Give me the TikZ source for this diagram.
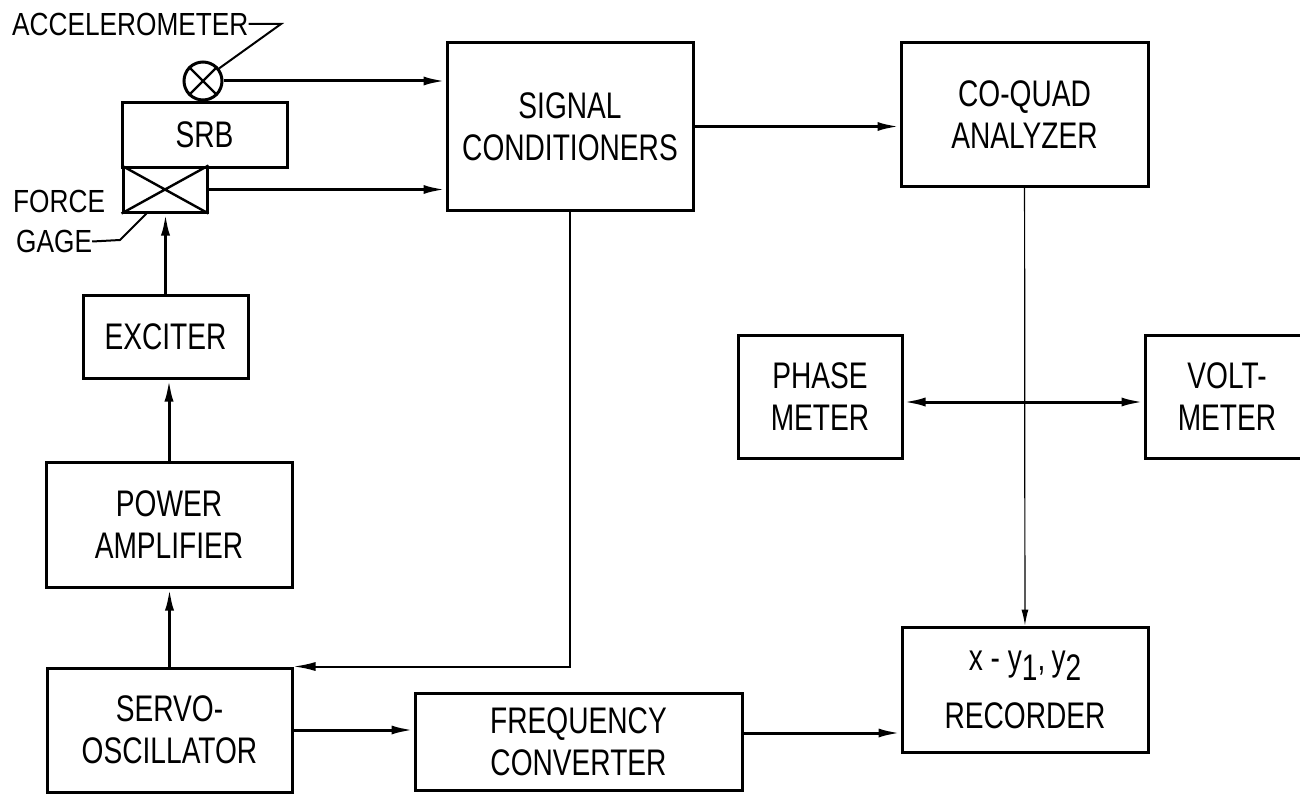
\documentclass[tikz,border=0pt]{standalone}
\usepackage{fontspec}
\setmainfont{Liberation Sans}[FakeStretch=0.76]
\newfontfamily\lblfont{Liberation Sans}[FakeStretch=0.82]
\usetikzlibrary{arrows.meta,positioning}

\begin{document}
\begin{tikzpicture}[x=1pt,y=-1pt,>={Latex[length=22pt,width=9pt]},
  blk/.style={draw,line width=3pt,inner sep=0pt,align=center,font=\fontsize{37}{42}\selectfont},
  lbl/.style={inner sep=0pt,font=\lblfont\fontsize{32}{36}\selectfont},
  wire/.style={line width=3pt},
  lead/.style={line width=2pt},
  feed/.style={line width=2pt},
  probe/.style={line width=1.2pt,-{Latex[length=16pt,width=7pt]}}]
  \useasboundingbox (0,0) rectangle (1300,797);
  % test article and transducers
  \node[blk,minimum width=165pt,minimum height=64pt] (srb) at (204.5,135) {SRB};
  \node[blk,minimum width=84pt,minimum height=45pt] (fg) at (165,189.5) {};
  \draw[line width=2.4pt] (fg.north west) -- (fg.south east) (fg.south west) -- (fg.north east);
  \node[draw,circle,line width=3pt,inner sep=0pt,minimum size=38pt] (acc) at (203,81) {};
  \draw[line width=2.4pt] (acc.45) -- (acc.225) (acc.135) -- (acc.315);
  \node[lbl,anchor=west] (acclbl) at (12,24) {ACCELEROMETER};
  \coordinate (acck) at (281,24);
  \draw[lead] (acclbl.east) -- (acck) -- (acc.38);
  \node[lbl,anchor=west] (forcelbl) at (13,201.5) {FORCE};
  \node[lbl,anchor=west] (gagelbl) at (16,241.5) {GAGE};
  \coordinate (gagek) at (120,240);
  \draw[lead] (gagelbl.east) -- (gagek) -- ([xshift=25pt]fg.south west);
  % drive chain
  \node[blk,minimum width=165pt,minimum height=83pt] (exc) at (165.5,336.5) {EXCITER};
  \node[blk,minimum width=246pt,minimum height=125pt] (pa) at (169,524.5) {POWER\\AMPLIFIER};
  \node[blk,minimum width=245pt,minimum height=124pt] (servo) at (169.5,730) {SERVO-\\OSCILLATOR};
  \node[blk,minimum width=327pt,minimum height=97pt] (freq) at (578.5,741.5) {FREQUENCY\\CONVERTER};
  % measuring chain
  \node[blk,minimum width=246pt,minimum height=167pt] (sc) at (570,126.5) {SIGNAL\\CONDITIONERS};
  \node[blk,minimum width=247pt,minimum height=143pt] (cq) at (1024.5,114.5) {CO-QUAD\\ANALYZER};
  \node[blk,minimum width=164pt,minimum height=123pt] (ph) at (820,396.5) {PHASE\\METER};
  \node[blk,minimum width=164pt,minimum height=123pt] (vm) at (1227,396.5) {VOLT-\\METER};
  \node[blk,minimum width=246pt,minimum height=125pt] (rec) at (1025,689.5)
    {x\ -\ y\raisebox{-10pt}{1},\,y\raisebox{-10pt}{2}\\[16pt]RECORDER};
  % connections
  \draw[wire,->] (acc) -- (acc -| sc.west);
  \draw[wire,->] (fg) -- (fg -| sc.west);
  \draw[wire,->] (sc) -- (sc -| cq.west);
  \draw[probe] (cq) -- (rec);
  \draw[wire,<->] ([yshift=-5.5pt]ph.east) -- ([yshift=-5.5pt]vm.west);
  \draw[wire,->] (exc.north) -- (exc.north |- fg.south);
  \draw[wire,->] (pa.north) -- (pa.north |- exc.south);
  \draw[wire,->] (servo.north) -- (servo.north |- pa.south);
  \draw[feed,->] (sc.south) |- (servo.north east);
  \draw[wire,->] (servo) -- (servo -| freq.west);
  \coordinate (fo) at ([yshift=8.5pt]freq.east);
  \draw[wire,->] (fo) -- (fo -| rec.west);
\end{tikzpicture}
\end{document}
